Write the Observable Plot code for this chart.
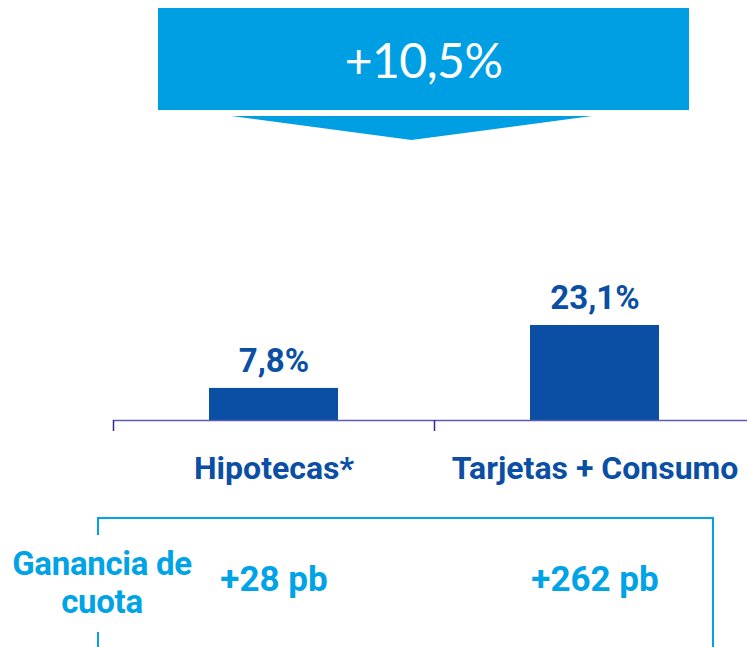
<!DOCTYPE html>
<html>
<head>
<meta charset="utf-8">
<script src="https://cdn.jsdelivr.net/npm/d3@7"></script>
<script src="https://cdn.jsdelivr.net/npm/@observablehq/plot@0.6"></script>
<style>
  html, body { margin: 0; padding: 0; background: #fff; }
  #wrap { position: relative; width: 747px; height: 647px; overflow: hidden; font-family: Roboto, "Noto Sans", sans-serif; }
  #banner { position: absolute; left: 158px; top: 8px; width: 531px; height: 102px; background: #009FE3; color: #fff;
            font-family: Lato, sans-serif; font-size: 48px; font-weight: 400; letter-spacing: -0.5px;
            display: flex; align-items: center; justify-content: center; }
  #arrow { position: absolute; left: 231px; top: 116px; width: 361px; height: 24px; background: #009FE3;
           clip-path: polygon(0 0, 100% 0, 50% 100%); }
  #chart { position: absolute; left: 0; top: 145px; }
  #box { position: absolute; left: 97px; top: 517px; width: 613px; height: 140px;
         border: 2.5px solid #00A3E6; border-bottom: none; }
  #gan { position: absolute; left: 2px; width: 200px; top: 535px; height: 97px; box-sizing: border-box; padding-top: 10px;
         text-align: center; background: #fff; color: #00A3E6; font-weight: 700; font-size: 33px; line-height: 38px;
         letter-spacing: -0.3px; }
</style>
</head>
<body>
<div id="wrap">
  <div id="banner"></div>
  <div id="arrow"></div>
  <div id="box"></div>
  <div id="chart"></div>
  <div id="gan"></div>
</div>
<script>
// ---- data ----
const categories = ["Hipotecas*", "Tarjetas + Consumo"];
const growth = [7.8, 23.1];          // % growth per category
const shareGain = [28, 262];         // market share gain, basis points
const totalGrowth = [10.5];          // overall growth %
const shareLabel = ["Ganancia de", "cuota"];

const data = categories.map((c, i) => ({cat: c, value: growth[i], share: shareGain[i]}));
const fmt = v => v.toFixed(1).replace(".", ",");

document.getElementById("banner").textContent = "+" + fmt(totalGrowth[0]) + "%";
document.getElementById("gan").innerHTML = shareLabel.join("<br>");

const dark = "#0A4FA3";
const light = "#00A3E6";
const xRange = [113, 755];
const step = (xRange[1] - xRange[0]) / categories.length;
const y0 = 275;
const pxPerUnit = 4.113;

const chart = Plot.plot({
  width: 747,
  height: 502,
  marginLeft: 113,
  marginRight: 0,
  marginTop: 0,
  marginBottom: 0,
  style: {fontFamily: "Roboto, 'Noto Sans', sans-serif", background: "transparent", overflow: "visible"},
  x: {type: "band", domain: categories, range: xRange, padding: 0, axis: null},
  y: {domain: [0, 25], range: [y0, y0 - 25 * pxPerUnit], axis: null},
  marks: [
    Plot.barY(data, {x: "cat", y: "value", fill: dark, insetLeft: 96, insetRight: 96}),
    Plot.ruleY([0], {stroke: "#5b5bb5", strokeWidth: 1.5}),
    Plot.ruleX(data, {x: "cat", dx: -step / 2, y1: 0, y2: 0, insetBottom: -11, stroke: "#2c2c9a", strokeWidth: 1.5}),
    Plot.text(data, {x: "cat", y: "value", text: d => fmt(d.value) + "%", dy: -16, lineAnchor: "bottom",
      fontSize: 33, fontWeight: 700, fill: dark, style: "letter-spacing:-1px"}),
    Plot.text(data, {x: "cat", y: 0, text: "cat", dy: 58, lineAnchor: "bottom",
      fontSize: 32, fontWeight: 700, fill: dark, style: "letter-spacing:-0.6px"}),
    Plot.text(data, {x: "cat", y: 0, text: d => "+" + d.share + " pb", dy: 170, lineAnchor: "bottom",
      fontSize: 35, fontWeight: 700, fill: light, style: "letter-spacing:-0.3px"})
  ]
});
document.getElementById("chart").appendChild(chart);
</script>
</body>
</html>
